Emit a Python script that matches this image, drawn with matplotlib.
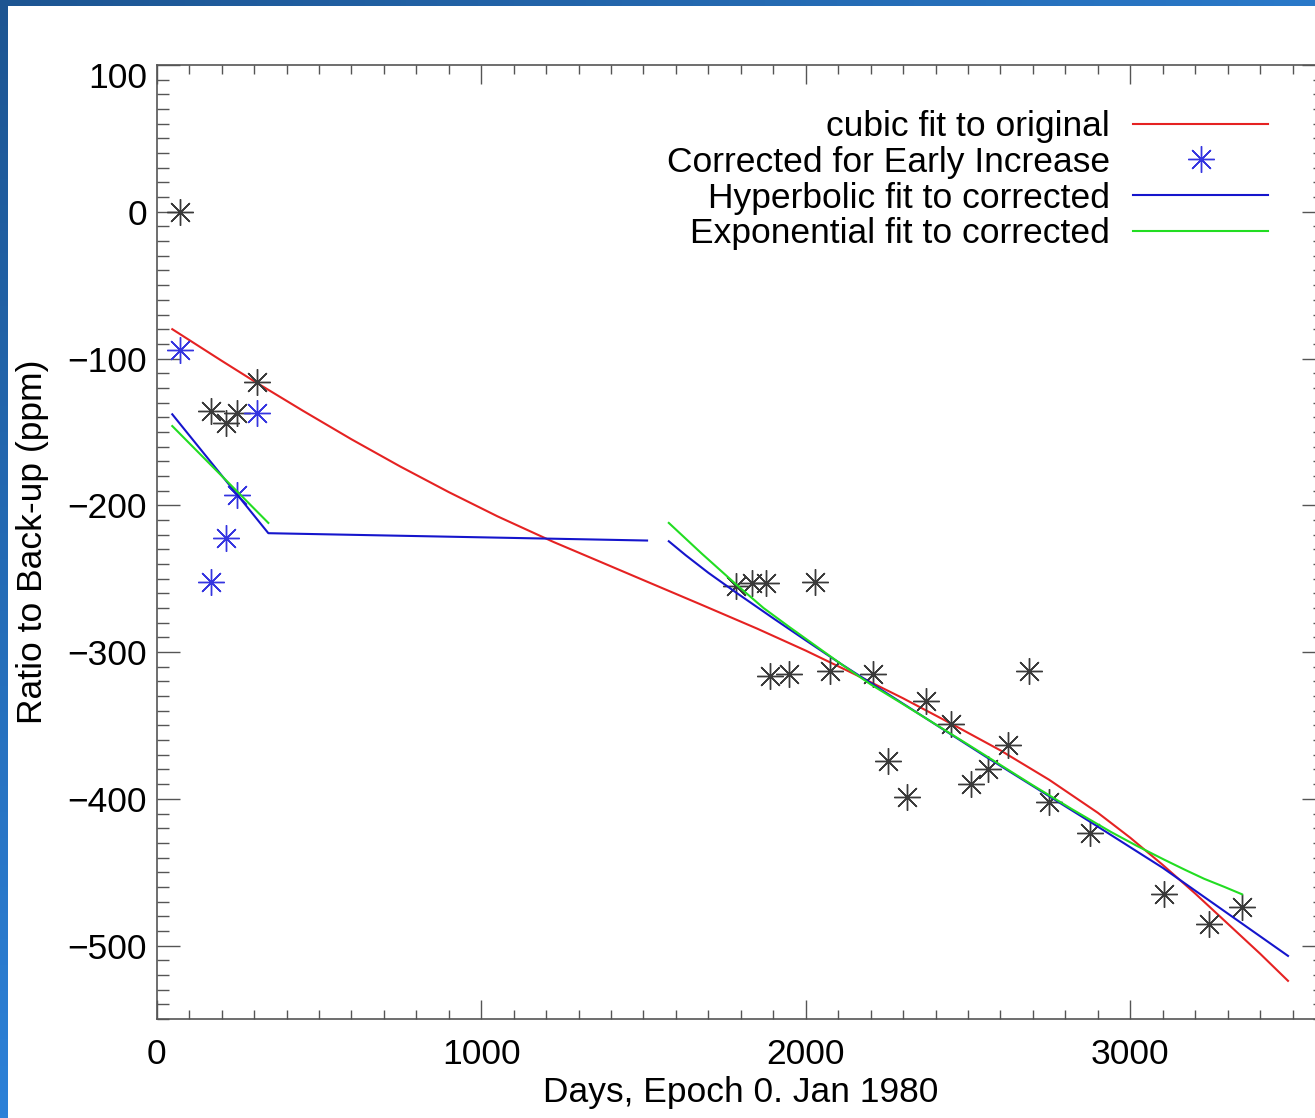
import numpy as np
import matplotlib
matplotlib.use('Agg')
import matplotlib.pyplot as plt
from matplotlib.colors import LinearSegmentedColormap
from matplotlib.ticker import MultipleLocator
from matplotlib.transforms import ScaledTranslation

plt.rcParams['font.family'] = ['Liberation Sans', 'DejaVu Sans']

# original ratios (days since 0 Jan 1980, ppm)
orig_days = [73, 167, 214, 248, 308, 1786, 1833, 1876, 1889, 1948, 2028, 2075, 2208,
             2254, 2313, 2370, 2447, 2509, 2563, 2622, 2688, 2750, 2876, 3105, 3244, 3345]
orig_vals = [0, -136, -144, -137, -116, -255, -253, -253, -316, -315, -252, -313, -315,
             -374, -399, -333, -349, -390, -380, -363, -313, -402, -423, -465, -485, -474]

# early points after the correction
corr_days = [73, 167, 214, 248, 308]
corr_vals = [-94, -252, -222, -193, -137]

# cubic fit to the original data
cubic_days = [48, 200, 308, 450, 600, 750, 900, 1050, 1223, 1367, 1500, 1676, 1850,
              2000, 2150, 2300, 2450, 2600, 2750, 2900, 3000, 3100, 3200, 3300, 3400, 3486]
cubic_vals = [-80, -101.5, -116.5, -135.5, -155, -173.5, -191, -207.5, -225, -238.5,
              -251, -267.5, -284, -299, -315, -331.5, -349, -367, -387, -409.5, -426.5,
              -445, -464.5, -485, -505.5, -524]

# hyperbolic fit, two pieces
hyp_days_1 = [48, 344, 1511]
hyp_vals_1 = [-138, -219, -224]
hyp_days_2 = [1578, 1630, 1700, 1789, 1900, 2000, 2108, 2334, 2560, 2879, 3100, 3486]
hyp_vals_2 = [-224.5, -234, -246, -260, -277, -292, -308, -340, -372, -416, -447, -507]

# exponential fit, two pieces
exp_days_1 = [48, 344]
exp_vals_1 = [-146, -212]
exp_days_2 = [1578, 1680, 1786, 1870, 1950, 2108, 2200, 2300, 2500, 2694, 2820, 2940,
              3020, 3105, 3170, 3228, 3290, 3344]
exp_vals_2 = [-212, -233, -254, -270, -283, -308, -322, -335.5, -363, -390, -407, -422.5,
              -432, -441.5, -448.5, -454.5, -460, -465]

W, H = 1315, 1118
fig = plt.figure(figsize=(W / 100, H / 100), dpi=100)
fig.patch.set_facecolor('white')

# slide border strips
grad = np.linspace(0, 1, 256)
top_cmap = LinearSegmentedColormap.from_list('top', ['#1d5592', '#2a79c9'])
left_cmap = LinearSegmentedColormap.from_list('left', ['#1d5592', '#2c81d8'])
bt = fig.add_axes([0, 1 - 6 / H, 1, 6 / H])
bt.imshow(grad[None, :], aspect='auto', cmap=top_cmap)
bt.axis('off')
bl = fig.add_axes([0, 0, 8 / W, 1])
bl.imshow(grad[:, None], aspect='auto', cmap=left_cmap)
bl.axis('off')

left, right, top, bottom = 156.7, 1325, 65, 1019
ax = fig.add_axes([left / W, 1 - bottom / H, (right - left) / W, (bottom - top) / H])

fs = 25.5
star = (8, 2, 0)
ax.plot(cubic_days, cubic_vals, color='#e52222', lw=1.5, label='cubic fit to original')
ax.plot(orig_days, orig_vals, ls='none', marker=star, ms=19, mew=1.0, color='#3a3a3a')
ax.plot(corr_days, corr_vals, ls='none', marker=star, ms=19, mew=1.0, color='#3535e0',
        label='Corrected for Early Increase')
ax.plot(hyp_days_1, hyp_vals_1, color='#1515cc', lw=1.5, label='Hyperbolic fit to corrected')
ax.plot(hyp_days_2, hyp_vals_2, color='#1515cc', lw=1.5)
ax.plot(exp_days_1, exp_vals_1, color='#22dd22', lw=1.5, label='Exponential fit to corrected')
ax.plot(exp_days_2, exp_vals_2, color='#22dd22', lw=1.5)

ax.set_xlim(0, 3600)
ax.set_ylim(-550, 100)
ax.xaxis.set_major_locator(MultipleLocator(1000))
ax.xaxis.set_minor_locator(MultipleLocator(100))
ax.yaxis.set_major_locator(MultipleLocator(100))
ax.yaxis.set_minor_locator(MultipleLocator(10))

for s in ax.spines.values():
    s.set_color('#555555')
    s.set_linewidth(1.2)
ax.tick_params(which='both', direction='in', top=True, right=True, color='#555555',
               width=1.0, labelsize=fs)
ax.tick_params(axis='x', which='major', length=13.7, pad=14)
ax.tick_params(axis='x', which='minor', length=6.8)
ax.tick_params(axis='y', which='major', length=16.8, pad=7)
ax.tick_params(axis='y', which='minor', length=8.4)

ax.set_xlabel('Days, Epoch 0. Jan 1980', fontsize=fs, labelpad=3)
ax.set_ylabel('Ratio to Back-up (ppm)', fontsize=fs, labelpad=13)

ax.legend(loc='upper right', bbox_to_anchor=(1268 / W, 1 - 110 / H),
          bbox_transform=fig.transFigure, frameon=False, markerfirst=False,
          fontsize=fs, handlelength=3.81, handletextpad=0.65, labelspacing=0.08,
          borderpad=0, borderaxespad=0)

# the top label sits a little below its tick
fig.canvas.draw()
for t in ax.yaxis.get_major_ticks():
    if abs(t.get_loc() - 100) < 1:
        t.label1.set_transform(t.label1.get_transform()
                               + ScaledTranslation(0, -10 / 100, fig.dpi_scale_trans))

fig.savefig('out.png', dpi=100)
